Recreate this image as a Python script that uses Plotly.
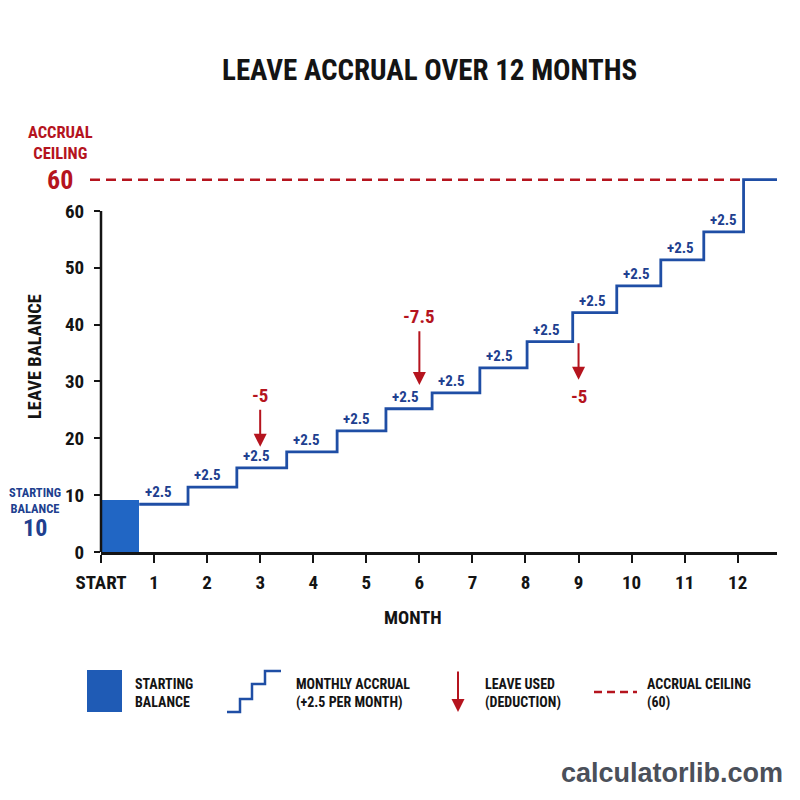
import plotly.graph_objects as go

# ---------------- data ----------------
month_ticks = list(range(0, 13))
month_labels = ["START"] + [str(m) for m in range(1, 13)]
y_ticks = [0, 10, 20, 30, 40, 50, 60]

start_balance_label = "10"
start_bar_height = 9.2
start_bar_width = 0.72

# step (balance) line: x where each level starts, level value
step_x = [0.72, 1.64, 2.56, 3.50, 4.45, 5.37, 6.24, 7.14, 8.03, 8.89, 9.72, 10.55, 11.36, 12.11, 12.75]
step_y = [8.4, 11.4, 14.8, 17.6, 21.3, 25.2, 28.0, 32.4, 37.0, 42.1, 46.8, 51.4, 56.3, 65.5, 65.5]
accrual_text = "+2.5"
n_accrual_labels = 13

deduct_months = [3, 6, 9]
deduct_text = ["-5", "-7.5", "-5"]
deduct_from = [25.3, 39.1, 37.0]
deduct_to = [18.5, 29.4, 30.3]
deduct_label_y = [27.6, 41.4, 27.4]

ceiling_text = "60"
ceiling_level = 65.5
ceiling_end_x = 12.11

# ---------------- styling ----------------
FONT = "Roboto Condensed, Liberation Sans Narrow, DejaVu Sans Condensed, Roboto, sans-serif"
BLACK = "#141414"
RED = "#b5141e"
LINE_BLUE = "#1f4ea5"
TEXT_BLUE = "#213f8f"
BAR_BLUE = "#2166c4"

X_MAX = 12.74
Y_MAX = 67.2
L, R, T, B = 101, 23, 170, 248
PW, PH = 800 - L - R, 800 - T - B


def px(x, y):
    return (x - L) / PW, ((800 - B) - y) / PH


def b(t):
    return "<b>" + t + "</b>"


fig = go.Figure()

fig.add_trace(go.Bar(x=[month_ticks[0]], y=[start_bar_height], width=[start_bar_width], offset=0,
                     marker=dict(color=BAR_BLUE, line=dict(width=0)), hoverinfo="skip"))
fig.add_trace(go.Scatter(x=step_x, y=step_y, mode="lines",
                         line=dict(shape="hv", color=LINE_BLUE, width=2.8), hoverinfo="skip"))

ann = []
shapes = []

# +2.5 labels
for i in range(n_accrual_labels):
    ann.append(dict(x=step_x[i], y=step_y[i], xref="x", yref="y", text=b(accrual_text),
                    showarrow=False, xanchor="left", yanchor="bottom", xshift=4, yshift=1,
                    font=dict(family=FONT, size=15, color=TEXT_BLUE)))

# deductions
for m, t, f, to, ly in zip(deduct_months, deduct_text, deduct_from, deduct_to, deduct_label_y):
    ann.append(dict(x=m, y=to, ax=m, ay=f, xref="x", yref="y", axref="x", ayref="y", text="",
                    showarrow=True, arrowhead=2, arrowsize=1.3, arrowwidth=2, arrowcolor=RED))
    ann.append(dict(x=m, y=ly, xref="x", yref="y", text=b(t), showarrow=False,
                    font=dict(family=FONT, size=19, color=RED)))

# ceiling line
cx0, cy = px(90, 0)[0], ceiling_level / Y_MAX
shapes.append(dict(type="line", xref="paper", yref="paper", x0=cx0, x1=ceiling_end_x / X_MAX,
                   y0=cy, y1=cy, line=dict(color=RED, width=2.5, dash="10px,6px")))

# y axis line (only up to 60)
shapes.append(dict(type="line", xref="paper", yref="paper", x0=0, x1=0, y0=0, y1=y_ticks[-1] / Y_MAX,
                   line=dict(color=BLACK, width=2.5)))


def text_at(x, y, t, size, color=BLACK, anchor="center", angle=0, family=FONT, align="center"):
    xx, yy = px(x, y)
    ann.append(dict(x=xx, y=yy, xref="paper", yref="paper", text=t, showarrow=False,
                    xanchor=anchor, yanchor="middle", textangle=angle, align=align,
                    font=dict(family=family, size=size, color=color)))


text_at(429, 70, b("LEAVE ACCRUAL OVER 12 MONTHS"), 29)
text_at(60, 143, b("ACCRUAL<br>CEILING"), 16.5, RED)
text_at(60, 180, b(ceiling_text), 26, RED)
text_at(35, 500, b("STARTING<br>BALANCE"), 12.5, TEXT_BLUE)
text_at(35, 528, b(start_balance_label), 24, TEXT_BLUE)
text_at(35, 357, b("LEAVE BALANCE"), 18.5, angle=-90)
text_at(413, 618, b("MONTH"), 18.5)

# legend
x0, y0 = px(87, 712)
x1, y1 = px(122, 670)
shapes.append(dict(type="rect", xref="paper", yref="paper", x0=x0, x1=x1, y0=y0, y1=y1,
                   fillcolor="#1f5bb5", line=dict(width=0)))
text_at(133, 693, b("STARTING<br>BALANCE"), 14, anchor="left", align="left")

stair = [(227, 712), (240, 712), (240, 699), (252, 699), (252, 684), (265, 684), (265, 671), (281, 671)]
path = ""
for k, (sx, sy) in enumerate(stair):
    ppx, ppy = px(sx, sy)
    path += ("M" if k == 0 else "L") + f"{ppx:.5f},{ppy:.5f}"
shapes.append(dict(type="path", xref="paper", yref="paper", path=path,
                   line=dict(color=LINE_BLUE, width=2.5)))
text_at(294, 693, b("MONTHLY ACCRUAL<br>(+2.5 PER MONTH)"), 14, anchor="left", align="left")

ax1, ay1 = px(458, 712)
ann.append(dict(x=ax1, y=ay1, ax=0, ay=-42, xref="paper", yref="paper",
                text="", showarrow=True, arrowhead=2, arrowsize=1.3, arrowwidth=2, arrowcolor=RED))
text_at(483, 693, b("LEAVE USED<br>(DEDUCTION)"), 14, anchor="left", align="left")

lx0, ly = px(594, 692)
lx1, _ = px(637, 692)
shapes.append(dict(type="line", xref="paper", yref="paper", x0=lx0, x1=lx1, y0=ly, y1=ly,
                   line=dict(color=RED, width=2.5, dash="8px,5px")))
text_at(645, 693, b("ACCRUAL CEILING<br>(60)"), 14, anchor="left", align="left")

text_at(672, 773, b("calculatorlib.com"), 27, color="#4b505a",
        family="Liberation Sans, Arial, Helvetica, sans-serif")

fig.update_layout(
    width=800, height=800, margin=dict(l=L, r=R, t=T, b=B),
    paper_bgcolor="white", plot_bgcolor="white", showlegend=False,
    annotations=ann, shapes=shapes, bargap=0,
    xaxis=dict(range=[0, X_MAX], showline=True, linecolor=BLACK, linewidth=2.5,
               ticks="outside", ticklen=8, tickwidth=2, tickcolor=BLACK,
               tickvals=month_ticks, ticktext=[b(t) for t in month_labels],
               tickfont=dict(family=FONT, size=19, color=BLACK), ticklabelstandoff=3,
               showgrid=False, zeroline=False, fixedrange=True),
    yaxis=dict(range=[0, Y_MAX], showline=False, ticks="outside", ticklen=6, tickwidth=2,
               tickcolor=BLACK, tickvals=y_ticks, ticktext=[b(str(v)) for v in y_ticks],
               tickfont=dict(family=FONT, size=19, color=BLACK), ticklabelstandoff=6,
               showgrid=False, zeroline=False, fixedrange=True),
)

fig.write_html("out.html")
